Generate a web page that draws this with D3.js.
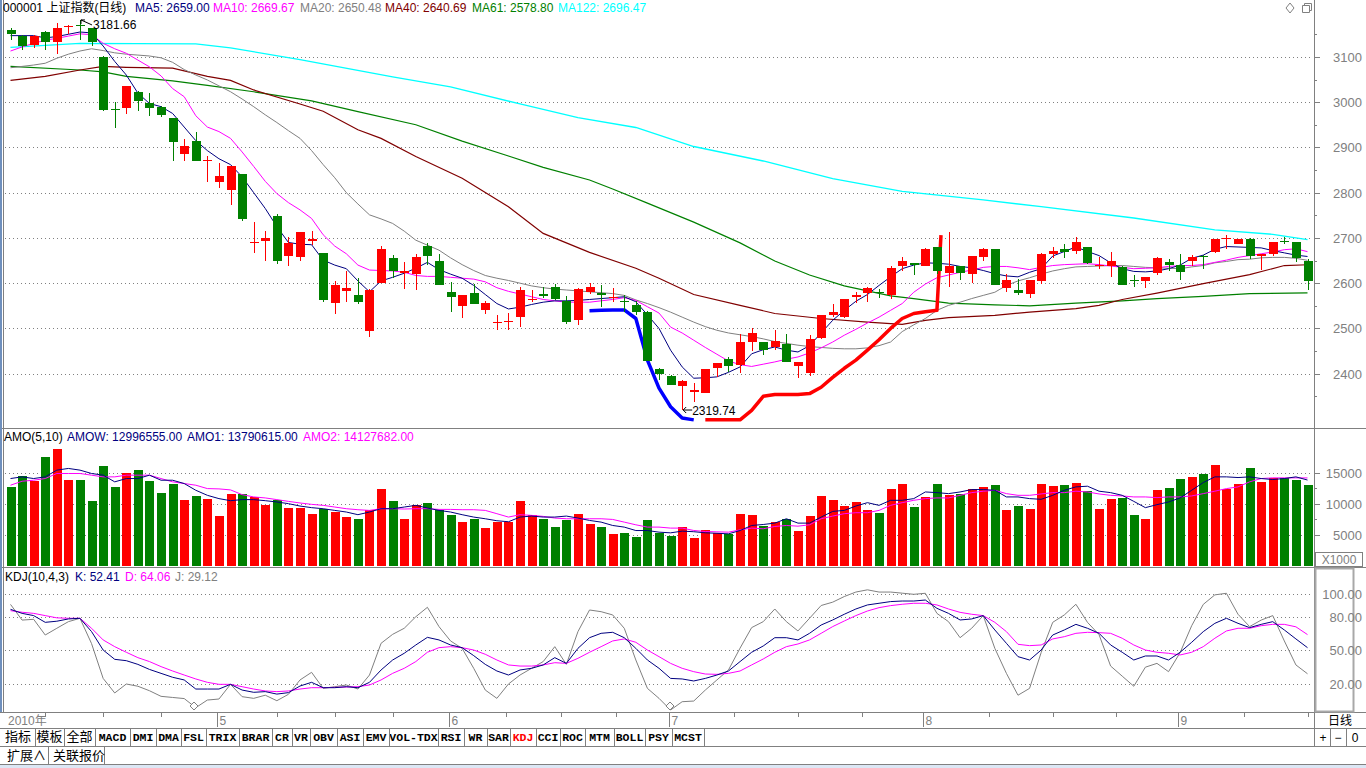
<!DOCTYPE html>
<html><head><meta charset="utf-8">
<script src="https://cdn.jsdelivr.net/npm/d3@7"></script>
<style>
body{margin:0;background:#fff;overflow:hidden}
svg{display:block}
</style></head>
<body><svg id="c" width="1366" height="768"></svg>
<script>
// ---------------- DATA ----------------
const aprDays = [7,8,9,12,13,14,15,16,19,20,21,22,23,26,27,28,29,30];
const mayDays = [4,5,6,7,10,11,12,13,14,17,18,19,20,21,24,25,26,27,28,31];
const junDays = [1,2,3,4,7,8,9,10,11,17,18,21,22,23,24,25,28,29,30];
const julDays = [1,2,5,6,7,8,9,12,13,14,15,16,19,20,21,22,23,26,27,28,29,30];
const augDays = [2,3,4,5,6,9,10,11,12,13,16,17,18,19,20,23,24,25,26,27,30,31];
const sepDays = [1,2,3,6,7,8,9,10,13,14,15,16];

const opens = [3160,3147,3127,3154,3132,3165,3170,3163,3100,2984,2988,3022,2998,2990,2964,2886,2914,2870,2824,2807,
2841,2689,2693,2749,2659,2657,2693,2667,2557,2583,2574,2495,2600,2655,2622,2620,2682,2649,2580,2550,
2578,2540,2512,2514,2526,2564,2576,2592,2561,2519,2581,2579,2567,2560,2552,2537,2410,2394,2373,2359,
2358,2413,2432,2420,2470,2469,2459,2466,2418,2401,2479,2530,2525,2569,2578,2580,2575,2638,2645,2637,
2680,2622,2637,2621,2658,2675,2589,2586,2577,2605,2665,2675,2671,2680,2638,2639,2636,2607,2604,2622,
2647,2641,2648,2660,2668,2697,2687,2698,2659,2664,2694,2690,2648];
const highs = [3163,3149,3149,3157,3174,3171,3181.66,3164,3101,3001,3036,3024,3020,2992,2966,2919,2934,2880,2865,2859,
2842,2736,2715,2753,2701,2713,2715,2667,2605,2627,2611,2587,2682,2662,2646,2664,2689,2664,2602,2574,
2598,2561,2530,2534,2592,2584,2592,2598,2572,2589,2601,2596,2589,2574,2561,2539,2413,2398,2387,2379,
2411,2423,2438,2488,2502,2469,2496,2488,2426,2485,2530,2555,2564,2580,2592,2588,2637,2658,2645,2678,
2680,2712,2639,2659,2678,2676,2620,2610,2608,2667,2680,2687,2703,2681,2658,2670,2639,2617,2614,2658,
2653,2664,2662,2662,2698,2706,2698,2700,2664,2692,2702,2692,2654];
const lows = [3138,3115,3119,3115,3106,3150,3138,3125,2981,2944,2974,2981,2970,2968,2869,2869,2871,2824,2811,2773,
2738,2666,2649,2642,2637,2649,2685,2558,2532,2558,2554,2481,2600,2611,2587,2585,2640,2595,2537,2524,
2555,2531,2496,2496,2503,2558,2568,2562,2509,2508,2576,2548,2558,2537,2530,2427,2385,2374,2319.74,2337,
2358,2393,2404,2401,2450,2442,2452,2426,2391,2395,2476,2525,2522,2556,2558,2568,2564,2627,2617,2637,
2621,2591,2608,2600,2650,2595,2580,2573,2568,2599,2656,2656,2664,2642,2632,2614,2597,2592,2590,2617,
2628,2608,2639,2631,2667,2676,2686,2654,2630,2659,2687,2647,2584];
const closes = [3151,3123,3147,3132,3163,3168,3167,3132,2983,2983,3036,3003,2987,2972,2911,2903,2871,2872,2837,2859,
2742,2691,2699,2650,2689,2713,2698,2563,2596,2590,2559,2586,2676,2626,2627,2658,2659,2595,2570,2574,
2555,2557,2514,2517,2584,2566,2572,2564,2515,2587,2591,2573,2569,2558,2536,2429,2400,2374,2383,2365,
2410,2423,2417,2471,2491,2452,2472,2426,2426,2476,2530,2536,2564,2574,2590,2577,2634,2648,2641,2675,
2628,2639,2622,2659,2675,2597,2608,2579,2608,2664,2672,2670,2691,2645,2641,2650,2597,2606,2614,2656,
2641,2625,2658,2659,2697,2699,2697,2659,2664,2690,2693,2656,2605];

const ma5 = [3147,3147,3147,3142,3145,3150,3155,3153,3124,3090,3060,3020,2997,2990,2975,2945,2915,2893,2875,2862,
2835,2800,2765,2725,2690,2686,2685,2651,2640,2632,2605,2581,2605,2613,2622,2633,2646,2630,2620,2611,
2595,2575,2555,2543,2547,2553,2558,2561,2561,2562,2564,2566,2568,2570,2559,2530,2500,2452,2415,2390,
2391,2393,2403,2415,2444,2453,2459,2452,2448,2462,2490,2518,2540,2560,2575,2595,2614,2632,2640,2645,
2644,2642,2637,2634,2628,2621,2616,2614,2624,2632,2660,2670,2680,2670,2661,2645,2632,2626,2625,2627,
2632,2640,2655,2662,2675,2681,2680,2679,2678,2672,2667,2662,2659];
const ma10 = [3113,3122,3130,3137,3141,3146,3151,3149,3130,3118,3108,3093,3078,3058,3030,3012,2970,2945,2935,2920,
2890,2858,2825,2798,2778,2762,2743,2707,2682,2665,2640,2629,2628,2627,2624,2617,2615,2615,2613,2611,
2609,2603,2590,2582,2576,2570,2564,2561,2558,2558,2558,2561,2564,2568,2562,2548,2534,2503,2490,2474,
2458,2443,2428,2420,2416,2421,2426,2432,2437,2446,2457,2470,2485,2498,2512,2525,2540,2555,2580,2598,
2612,2618,2624,2629,2635,2637,2637,2634,2630,2635,2639,2641,2642,2643,2641,2638,2635,2632,2633,2634,
2637,2639,2639,2641,2646,2651,2657,2661,2665,2669,2674,2676,2669.67];
const ma20 = [3076,3079,3082,3086,3097,3106,3113,3118,3114,3109,3106,3104,3102,3098,3088,3072,3060,3049,3036,3023,
3007,2990,2972,2955,2937,2920,2893,2862,2833,2800,2775,2751,2742,2732,2715,2695,2684,2673,2656,2641,
2628,2617,2611,2606,2600,2594,2590,2587,2585,2583,2581,2579,2577,2573,2563,2555,2546,2536,2525,2514,
2504,2496,2490,2486,2482,2477,2471,2467,2463,2460,2458,2456,2455,2455,2457,2462,2470,2493,2508,2522,
2540,2551,2558,2566,2573,2580,2595,2605,2612,2620,2627,2632,2636,2637,2638,2639,2639,2637,2635,2634,
2633,2632,2636,2639,2645,2648,2652,2653,2656,2657,2657,2655,2650.48];
const ma40Pts = [[1,3048],[4,3057],[7,3071],[9,3079],[11,3077],[15,3075],[18,3057],[20,3048],[22,3027],[26,2996],
[28,2980],[31,2939],[33,2920],[36,2880],[40,2832],[44,2769],[47,2710],[51,2668],[55,2633],[57,2611],[60,2575],
[64,2551],[67,2533],[71,2522],[75,2514],[78,2509],[80,2518],[82,2524],[86,2529],[89,2536],[93,2544],[95,2551],
[97,2564],[100,2578],[104,2599],[108,2619],[111,2639],[113,2640.69]];
const ma61Pts = [[1,3079],[7,3071],[9,3067],[11,3057],[15,3047],[18,3037],[22,3023],[27,3003],[31,2979],[36,2950],
[40,2914],[44,2881],[47,2856],[51,2828],[53,2808],[56,2777],[60,2735],[64,2689],[67,2649],[70,2618],[73,2594],
[75,2583],[77,2572],[79,2566],[82,2556],[86,2552],[89,2550],[93,2556],[97,2561],[100,2566],[104,2571],[108,2577],[113,2578.8]];
const ma122Pts = [[1,3121],[7,3130],[17,3129],[20,3120],[26,3094],[34,3056],[39,3034],[45,2996],[50,2966],[55,2944],
[60,2902],[66,2870],[72,2831],[78,2803],[85,2784],[90,2769],[98,2744],[105,2718],[110,2708],[113,2696.47]];
const lineBlue = [[51,2539],[52,2540],[53,2541],[54,2541],[55,2522],[56,2430],[57,2368],[58,2327],[59,2302],[60,2298]];
const lineRed = [[61,2298],[62,2298],[63,2298],[64,2298],[65,2319],[66,2350],[67,2354],[68,2354],[69,2354],[70,2356],
[71,2370],[72,2392],[73,2412],[74,2430],[75,2452],[76,2475],[77,2500],[78,2522],[79,2533],[80,2537],[81,2540],[81.35,2706]];

const amount = [12690,14400,13600,17530,18710,13870,13870,10480,15970,12690,14840,15480,13650,11770,13230,10650,11290,10810,8060,11610,
11610,11130,9840,10540,9360,9360,8390,9090,8710,7900,7470,8920,12420,10380,7580,9730,10160,8920,8230,7100,
7580,6130,7100,7100,10480,8230,7580,6290,7420,8390,6770,6290,5160,5320,4680,7420,5320,4840,6240,4520,
5810,5320,5160,8390,8230,6450,7100,7470,5650,8060,11290,10650,9680,10320,9030,8550,12420,13230,9520,11130,
13230,11450,11610,12420,12740,13060,9030,9680,9190,13230,12900,13060,13390,12100,9190,10810,10970,8230,7580,12260,
12580,14030,14350,14680,16130,12420,13230,15650,13550,14190,14190,13870,12996.555];
const amo1 = [14030,14300,14030,14300,15380,15650,15380,14840,14570,13500,14030,14030,14570,13760,13760,13230,12150,11340,10810,10480,
10650,10650,10480,10270,10000,9620,9360,9190,8920,8660,8230,8660,9190,9190,9460,9730,9300,8920,8660,8230,
7850,7580,7260,7100,7850,8010,7850,7850,8010,7690,7310,7040,6500,6240,5690,5690,5430,5320,5590,5500,
5320,5250,5160,5690,6500,6660,6880,7580,6880,6880,7850,8760,8920,9620,10160,9730,10540,10540,10810,11880,
11770,11610,11880,12260,12260,12150,11080,11080,10810,10700,11340,12150,12690,12800,12000,11770,11340,10370,9360,9840,
10270,10920,12150,13390,14300,14300,14190,14300,14030,13870,14030,14300,13790.615];
const amo2 = [12960,13600,13760,14030,14840,14840,14840,14570,14300,14300,14570,14570,14570,14030,13500,13230,12960,12420,12370,12210,
11450,11080,10920,10650,10370,10110,9890,9730,9460,9190,9030,8920,9190,9190,9140,9190,9190,9080,9080,9030,
9030,8920,8390,7850,8230,8120,7960,7690,7580,7580,7580,7580,7470,7040,6610,6240,6240,6080,6080,5700,
5530,5480,5430,5800,6080,5970,6340,6500,6390,6610,7580,8010,8390,8550,8550,8920,9730,10160,10540,10810,
10920,10920,11340,11770,12000,12150,11610,11340,11340,11560,11770,11770,12000,11880,11560,11340,11240,11080,11080,10970,
11080,11080,11240,11610,12000,12420,12690,13500,14030,14140,14140,14140,14127.682];

const kVals = [86.6,83,81,75,76,78,78.6,66.7,50.3,42,40.8,37.5,33,29.5,26,23.6,15.5,15.5,15.5,19.7,
14.6,12.6,13.2,11,12.3,18.2,21.5,16.7,16.7,17.6,16.7,21.5,32.5,41.4,47.4,54.8,61.6,59.3,54.8,52.4,
45.3,37.5,31.6,28,32.5,34,37,43.5,38.4,51.8,61.3,65.2,66.1,61.3,51.8,41.4,34,25,24.5,22.7,
25,28,31.6,40,48.3,53.9,61.3,61.3,59.3,65.2,72.6,77.1,82.2,86.9,90.5,92,93.5,94,94,94.9,
87.5,83,77.1,78,81,68.2,56.3,44.4,41.4,50.3,63.7,68.2,73.2,69.7,65.2,54.8,48.3,41.4,45,45,
41.4,48.3,57.2,66.7,74.1,78.6,74.1,70.3,73.2,75.6,68.2,60.2,52.41];
const dVals = [85.4,84,83,81,79,78.6,78.6,69.7,59.3,53.3,48.3,43.5,40,35.5,31.6,28,24.5,21.5,19.7,19.7,
17.6,15.5,13.8,13.2,13.8,15.5,16.7,16.7,17,17.3,17.6,19.1,23.6,29.5,34,40,48.3,52.4,53.3,52.4,
50.3,46.5,41.4,37,36,36,37,39,38.4,42.9,48.3,53.3,58.4,60.2,57.2,50.3,44.4,38.4,34,31,
28.9,28.6,29.5,31.6,37,42.3,48.3,53.3,55.7,59.3,65.2,71.2,76.2,81,85.1,88.1,89.9,91.1,92,92,
90.5,86.9,83.9,82.2,81,75,66.7,55.4,54.2,54.8,60.2,62.2,65.2,66.1,65.8,65.2,60.8,54.8,50.3,48.3,
47.4,45.9,48.3,53.3,60.8,67.3,69.7,69.7,72,73.2,73.2,71,64.06];
const jVals = [91,77,77.7,63.7,69.7,75.6,78.6,56,25,12,20,18,14,9,8,7,-1.1,5.7,6.6,19.7,
8.7,7.2,10,5.1,10.8,23.6,30.4,16.1,17.6,19.1,15.5,28,56.3,64.3,69.7,80,88.4,71.2,58.4,51.8,
34,14.6,7.2,20,28,34,40,53.3,37.5,66.7,86,84.5,81.6,69.7,41.4,16.1,7.2,-3.2,4.2,4.8,
14.6,23.6,32.5,52,70.3,75.6,86.9,75.6,67.3,78.6,90,93,98,102,104,102,102,101,100,100.9,
83,75.6,61.3,69.7,81,51.8,29.5,10,16.1,48,75,81.6,91.1,75,64,36,27,18,35,38.4,
31,48,72,91,99.5,100.9,82.2,71.2,77,81,58.4,37,29.12];

const priceTicks = [2400,2500,2600,2700,2800,2900,3000,3100];
const amountTicks = [5000,10000,15000];
const kdjTicks = [20,50,80,100];
const toolbarItems = ["指标","模板","全部","MACD","DMI","DMA","FSL","TRIX","BRAR","CR","VR","OBV","ASI","EMV","VOL-TDX","RSI","WR","SAR","KDJ","CCI","ROC","MTM","BOLL","PSY","MCST"];

// ---------------- BUILD ----------------
const dates = [];
[[4,aprDays],[5,mayDays],[6,junDays],[7,julDays],[8,augDays],[9,sepDays]].forEach(([m,ds])=>ds.forEach(d=>dates.push(new Date(2010,m-1,d))));
const candles = dates.map((d,i)=>({i:i+1,date:d,o:opens[i],h:highs[i],l:lows[i],c:closes[i],v:amount[i]}));
const N = candles.length;

const svg = d3.select("#c");
const RED="#ff0000", GREEN="#008000", NAVY="#000080", MAG="#ff00ff", GRAY="#808080", DRED="#800000", DGREEN="#008000", CYAN="#00ffff";
const FONT = "'Liberation Sans','Noto Sans CJK SC',Arial,sans-serif";
const RIGHT = 1313;

const x = d3.scaleLinear().domain([1,N]).range([10.5,1307.5]);
const yP = d3.scaleLinear().domain([2400,3100]).range([373.7,56.9]);
const yV = d3.scaleLinear().domain([0,15000]).range([566,472.5]);
const yK = d3.scaleLinear().domain([20,100]).range([684,594.3]);

svg.append("rect").attr("width",1366).attr("height",768).attr("fill","#fff");

const defs = svg.append("defs");
defs.append("clipPath").attr("id","cpMain").append("rect").attr("x",4).attr("y",15).attr("width",RIGHT-4).attr("height",413);
defs.append("clipPath").attr("id","cpVol").append("rect").attr("x",4).attr("y",429).attr("width",RIGHT-4).attr("height",138);
defs.append("clipPath").attr("id","cpKdj").append("rect").attr("x",4).attr("y",568).attr("width",RIGHT-4).attr("height",143);

function grid(ticks, scale){
  svg.append("g").selectAll("line").data(ticks).join("line")
    .attr("x1",5).attr("x2",RIGHT-1)
    .attr("y1",d=>Math.round(scale(d))+0.5).attr("y2",d=>Math.round(scale(d))+0.5)
    .attr("stroke",GRAY).attr("stroke-dasharray","1,3").attr("shape-rendering","crispEdges");
}
grid(priceTicks,yP); grid(amountTicks,yV); grid(kdjTicks,yK);

const frame = svg.append("g").attr("stroke",GRAY).attr("shape-rendering","crispEdges").attr("fill","none");
[428.5,567.5,712.5,728.5,746.5,764.5].forEach(yy=>frame.append("line").attr("x1",0).attr("x2",1366).attr("y1",yy).attr("y2",yy));
frame.append("line").attr("x1",RIGHT+1.5).attr("x2",RIGHT+1.5).attr("y1",0).attr("y2",746);
frame.append("line").attr("x1",3.5).attr("x2",3.5).attr("y1",0).attr("y2",712);
svg.append("rect").attr("x",0).attr("y",0).attr("width",2).attr("height",712).attr("fill","#6f90bd");
svg.append("rect").attr("x",0).attr("y",765).attr("width",1366).attr("height",3).attr("fill","#dce7f5");
svg.append("rect").attr("x",1315.5).attr("y",568.5).attr("width",38).attr("height",143).attr("fill","none").attr("stroke","#a8a8a8").attr("stroke-width",2);

const gMain = svg.append("g").attr("clip-path","url(#cpMain)");
const lineP = pts => d3.line().x(d=>x(d[0])).y(d=>yP(d[1]))(pts);
function maLine(vals,color,w){
  gMain.append("path").attr("d",lineP(vals.map((v,i)=>[i+1,v]))).attr("fill","none").attr("stroke",color).attr("stroke-width",w||1);
}
gMain.append("path").attr("d",lineP(ma122Pts)).attr("fill","none").attr("stroke",CYAN).attr("stroke-width",1.3);
gMain.append("path").attr("d",lineP(ma61Pts)).attr("fill","none").attr("stroke",DGREEN).attr("stroke-width",1.2);
gMain.append("path").attr("d",lineP(ma40Pts)).attr("fill","none").attr("stroke",DRED).attr("stroke-width",1.2);
maLine(ma20,GRAY,1);
maLine(ma10,MAG,1);
maLine(ma5,NAVY,1);
gMain.append("path").attr("d",lineP(lineBlue)).attr("fill","none").attr("stroke","#0000ff").attr("stroke-width",3.5).attr("stroke-linejoin","round");
gMain.append("path").attr("d",lineP(lineRed)).attr("fill","none").attr("stroke",RED).attr("stroke-width",3.5).attr("stroke-linejoin","round");

const cg = gMain.append("g").attr("shape-rendering","crispEdges");
candles.forEach(d=>{
  const col = d.c>=d.o ? RED : GREEN;
  const cx = Math.round(x(d.i));
  cg.append("line").attr("x1",cx+0.5).attr("x2",cx+0.5).attr("y1",yP(d.h)).attr("y2",yP(d.l)).attr("stroke",col);
  const top = yP(Math.max(d.o,d.c)), bot = yP(Math.min(d.o,d.c));
  if (bot-top < 1.5){
    cg.append("line").attr("x1",cx-4).attr("x2",cx+5).attr("y1",Math.round(top)+0.5).attr("y2",Math.round(top)+0.5).attr("stroke",col).attr("stroke-width",1.5);
  } else {
    cg.append("rect").attr("x",cx-4).attr("y",top).attr("width",9).attr("height",bot-top).attr("fill",col);
  }
});

const f2 = d3.format(".2f");
const hiC = candles[6], loC = candles[58];
const ann = svg.append("g").attr("font-family",FONT).attr("font-size",12).attr("fill","#000");
ann.append("path").attr("d",`M${x(hiC.i)+1},${yP(hiC.h)} L${x(hiC.i)+12},${yP(hiC.h)+5} M${x(hiC.i)+1},${yP(hiC.h)} l0,4 M${x(hiC.i)+1},${yP(hiC.h)} l4,0`).attr("stroke","#000").attr("fill","none");
ann.append("text").attr("x",x(hiC.i)+13).attr("y",yP(hiC.h)+9).text(f2(hiC.h));
ann.append("path").attr("d",`M${x(loC.i)+1},${yP(loC.l)} h9 M${x(loC.i)+1},${yP(loC.l)} l3,-3 M${x(loC.i)+1},${yP(loC.l)} l3,3`).attr("stroke","#000").attr("fill","none");
ann.append("text").attr("x",x(loC.i)+10).attr("y",yP(loC.l)+5).text(f2(loC.l));

const gVol = svg.append("g").attr("clip-path","url(#cpVol)");
gVol.append("g").attr("shape-rendering","crispEdges").selectAll("rect").data(candles).join("rect")
  .attr("x",d=>Math.round(x(d.i))-4).attr("width",9)
  .attr("y",d=>yV(d.v)).attr("height",d=>yV(0)-yV(d.v))
  .attr("fill",d=>d.c>=d.o?RED:GREEN);
const lineV = d3.line().x((d,i)=>x(i+1)).y(d=>yV(d));
gVol.append("path").attr("d",lineV(amo2)).attr("fill","none").attr("stroke",MAG);
gVol.append("path").attr("d",lineV(amo1)).attr("fill","none").attr("stroke",NAVY);

const gK = svg.append("g").attr("clip-path","url(#cpKdj)");
const lineK = d3.line().x((d,i)=>x(i+1)).y(d=>yK(d));
gK.append("path").attr("d",lineK(jVals)).attr("fill","none").attr("stroke",GRAY);
gK.append("path").attr("d",lineK(dVals)).attr("fill","none").attr("stroke",MAG);
gK.append("path").attr("d",lineK(kVals)).attr("fill","none").attr("stroke",NAVY);
[[194,706],[670,706]].forEach(p=>svg.append("path").attr("d",`M${p[0]},${p[1]-4} l4,4 l-4,4 l-4,-4 z`).attr("fill","#fff").attr("stroke",GRAY));

function header(items,y){
  const g = svg.append("g").attr("font-family",FONT).attr("font-size",12);
  items.forEach(it=>g.append("text").attr("x",it[0]).attr("y",y).attr("fill",it[2]).text(it[1]));
}
header([[3,"000001 上证指数(日线)","#000"],[135,"MA5: "+f2(ma5[N-1]),NAVY],[213,"MA10: "+f2(ma10[N-1]),MAG],
  [300,"MA20: "+f2(ma20[N-1]),GRAY],[385,"MA40: "+f2(ma40Pts[ma40Pts.length-1][1]),DRED],
  [472,"MA61: "+f2(ma61Pts[ma61Pts.length-1][1]),DGREEN],[558,"MA122: "+f2(ma122Pts[ma122Pts.length-1][1]),CYAN]],12);
header([[4,"AMO(5,10)","#000"],[67,"AMOW: "+f2(amount[N-1]*1000),NAVY],[187,"AMO1: "+f2(amo1[N-1]*1000),NAVY],[303,"AMO2: "+f2(amo2[N-1]*1000),MAG]],441);
header([[5,"KDJ(10,4,3)","#000"],[75,"K: "+f2(kVals[N-1]),NAVY],[125,"D: "+f2(dVals[N-1]),MAG],[175,"J: "+f2(jVals[N-1]),GRAY]],581);

const ax = svg.append("g").attr("font-family",FONT).attr("font-size",13).attr("fill",GRAY).attr("text-anchor","end");
priceTicks.forEach(t=>ax.append("text").attr("x",1362).attr("y",yP(t)+5).text(t));
amountTicks.forEach(t=>ax.append("text").attr("x",1362).attr("y",yV(t)+5).text(t));
kdjTicks.forEach(t=>ax.append("text").attr("x",1362).attr("y",yK(t)+5).text(f2(t)));
const tk = svg.append("g").attr("stroke",GRAY).attr("shape-rendering","crispEdges");
d3.range(2350,3151,50).forEach(t=>{const yy=Math.round(yP(t))+0.5; if(yy>18&&yy<427) tk.append("line").attr("x1",RIGHT+1).attr("x2",RIGHT+(t%100===0?7:4)).attr("y1",yy).attr("y2",yy);});
[5000,7500,10000,12500,15000].forEach(t=>{const yy=Math.round(yV(t))+0.5; tk.append("line").attr("x1",RIGHT+1).attr("x2",RIGHT+(t%5000===0?7:4)).attr("y1",yy).attr("y2",yy);});
svg.append("rect").attr("x",1315.5).attr("y",552.5).attr("width",47).attr("height",14).attr("fill","#fff").attr("stroke",GRAY);
svg.append("text").attr("x",1339).attr("y",564).attr("text-anchor","middle").attr("font-family",FONT).attr("font-size",12).attr("fill",GRAY).text("X1000");

svg.append("path").attr("d","M1290,3 l4,5 l-4,5 l-4,-5 z").attr("fill","none").attr("stroke",GRAY);
svg.append("path").attr("d","M1302.5,5.5 h7 v7 h-7 z M1304.5,5.5 v-2 h7 v7 h-2").attr("fill","none").attr("stroke",GRAY);

const monthStarts = [];
candles.forEach((d,i)=>{ if(i>0 && d.date.getMonth()!==candles[i-1].date.getMonth()) monthStarts.push(d.i); });
const dax = svg.append("g").attr("font-family",FONT).attr("font-size",12).attr("fill",GRAY);
dax.append("text").attr("x",8).attr("y",725).text("2010年");
const da = svg.append("g").attr("stroke",GRAY).attr("shape-rendering","crispEdges");
monthStarts.forEach((mi,k)=>{
  const xx = Math.round(x(mi))-1.5;
  da.append("line").attr("x1",xx).attr("x2",xx).attr("y1",713).attr("y2",727);
  dax.append("text").attr("x",xx+2).attr("y",725).text(candles[mi-1].date.getMonth()+1);
  const next = k<monthStarts.length-1 ? monthStarts[k+1] : null;
  if(next){ for(let q=1;q<4;q++){ const xq=Math.round(x(mi)+(x(next)-x(mi))*q/4)+0.5; da.append("line").attr("x1",xq).attr("x2",xq).attr("y1",713).attr("y2",717);} }
});
[1,2,3].forEach(q=>{const xq=Math.round(x(monthStarts[0])-(x(monthStarts[1])-x(monthStarts[0]))*q/4)+0.5; if(xq>5) da.append("line").attr("x1",xq).attr("x2",xq).attr("y1",713).attr("y2",717);});
[1,2].forEach(q=>{const xq=Math.round(x(monthStarts[4])+(x(monthStarts[4])-x(monthStarts[3]))*q/4)+0.5; if(xq<RIGHT) da.append("line").attr("x1",xq).attr("x2",xq).attr("y1",713).attr("y2",717);});
svg.append("text").attr("x",1340).attr("y",725).attr("text-anchor","middle").attr("font-family",FONT).attr("font-size",12).attr("fill","#000").text("日线");

const sepX = [1,35,64,95,130,156,181,206,239,272,292,310,337,363,389,438,464,487,510,536,560,585,614,645,672,704];
const tb = svg.append("g").attr("font-family","'Liberation Mono','Noto Sans CJK SC',monospace").attr("font-size",11.5).attr("font-weight","bold");
toolbarItems.forEach((t,i)=>{
  const x0=sepX[i], x1=sepX[i+1];
  const cjk = /[\u4e00-\u9fff]/.test(t);
  tb.append("text").attr("x",(x0+x1)/2).attr("y",741).attr("text-anchor","middle")
    .attr("font-family",cjk?"'Noto Sans CJK SC',sans-serif":null).attr("font-size",cjk?13:11.5)
    .attr("font-weight",cjk?"normal":null)
    .attr("fill",t==="KDJ"?RED:"#000").text(t);
});
const tbl = svg.append("g").attr("stroke",GRAY).attr("shape-rendering","crispEdges");
sepX.slice(1).forEach(s=>tbl.append("line").attr("x1",s+0.5).attr("x2",s+0.5).attr("y1",729).attr("y2",746));
[1314,1330,1346].forEach(s=>tbl.append("line").attr("x1",s+0.5).attr("x2",s+0.5).attr("y1",729).attr("y2",746));
tbl.append("line").attr("x1",1314.5).attr("x2",1314.5).attr("y1",713).attr("y2",728);
const pm = svg.append("g").attr("font-family",FONT).attr("font-size",12).attr("fill","#000").attr("text-anchor","middle");
pm.append("text").attr("x",1323).attr("y",742).text("+");
pm.append("text").attr("x",1338).attr("y",742).text("−");
pm.append("text").attr("x",1355).attr("y",742).text("0");
const b3 = svg.append("g").attr("font-family","'Noto Sans CJK SC',sans-serif").attr("font-size",13).attr("fill","#000");
b3.append("text").attr("x",7).attr("y",760).text("扩展∧");
b3.append("text").attr("x",53).attr("y",760).text("关联报价");
tbl.append("line").attr("x1",48.5).attr("x2",48.5).attr("y1",747).attr("y2",764);
tbl.append("line").attr("x1",104.5).attr("x2",104.5).attr("y1",747).attr("y2",764);
</script></body></html>
